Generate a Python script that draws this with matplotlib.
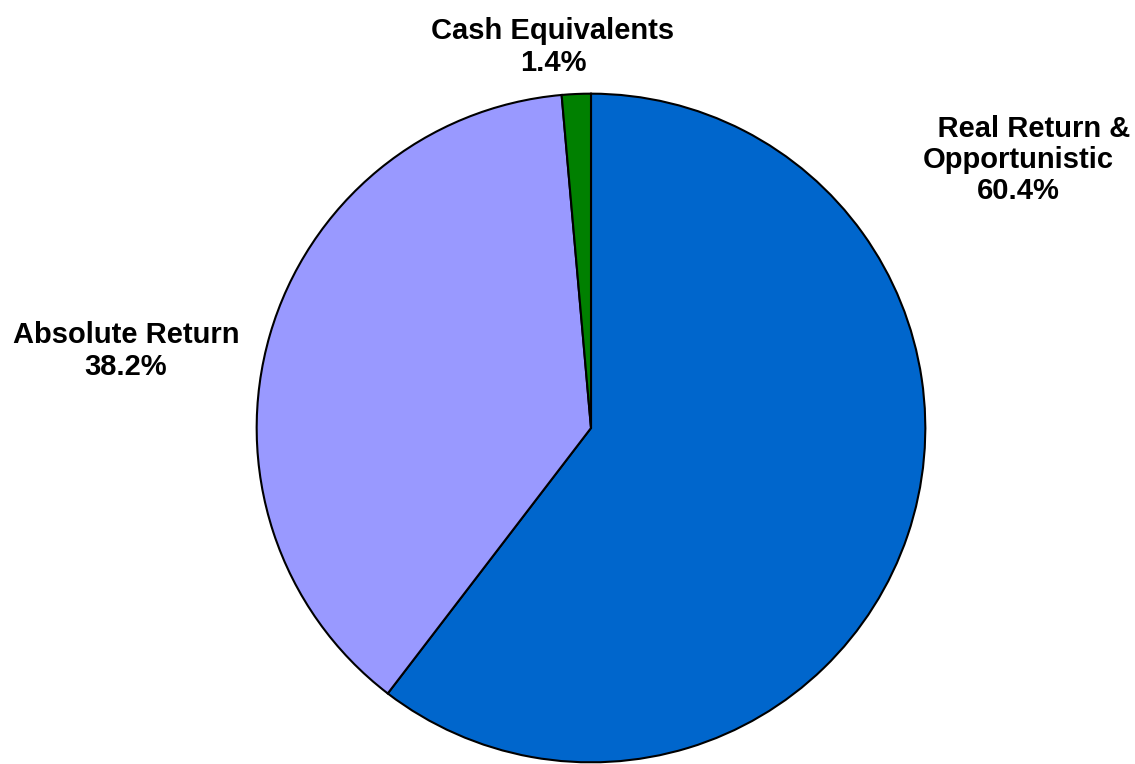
import matplotlib.pyplot as plt

# allocation shares, drawn clockwise from 12 o'clock
labels = ["    Real Return &\nOpportunistic", "Absolute Return", "Cash Equivalents"]
shares = [60.4, 38.2, 1.4]
colors = ["#0066CC", "#9999FF", "#008000"]

fig = plt.figure(figsize=(11.35, 7.64), dpi=100)
ax = fig.add_axes([255 / 1135, 0.0, 672 / 1135, 672 / 764])

ax.pie(shares, colors=colors, startangle=90, counterclock=False,
       wedgeprops={"edgecolor": "black", "linewidth": 1.5})
ax.set_xlim(-1.005, 1.005)
ax.set_ylim(-1.005, 1.005)
ax.set_aspect("equal")

# label positions in pixels (x center, y center from top)
label_pos = [(1018, 160), (126, 351), (553, 47)]
for name, val, (px, py) in zip(labels, shares, label_pos):
    fig.text(px / 1135, 1 - py / 764, name + "\n" + str(val) + "%",
             ha="center", va="center", fontsize=21, fontweight="bold",
             family="Liberation Sans", linespacing=1.15)

fig.savefig("out.png", dpi=100)
